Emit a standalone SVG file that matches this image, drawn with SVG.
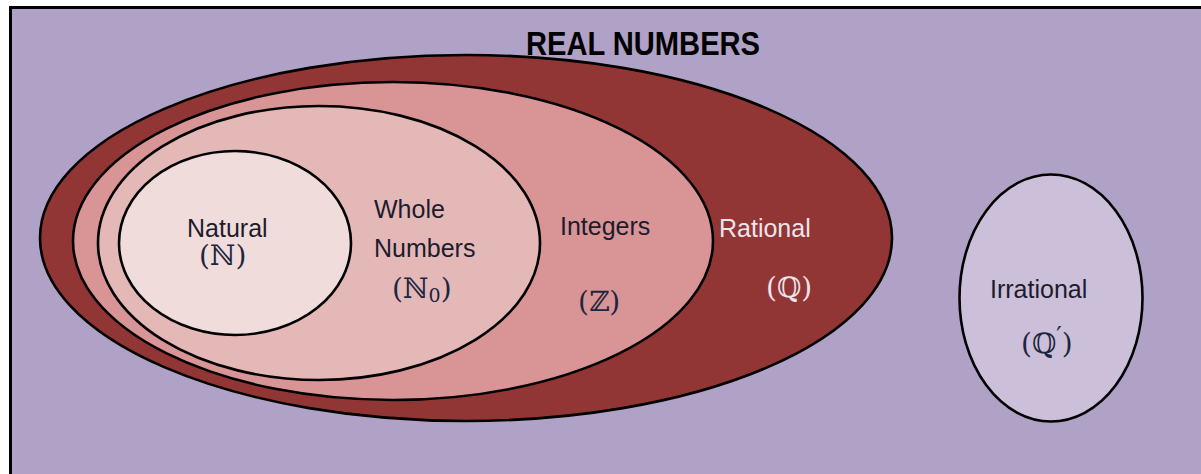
<svg xmlns="http://www.w3.org/2000/svg" width="1201" height="474" viewBox="0 0 1201 474">
<style>
.e{stroke:#000;stroke-width:2.6}
.t{font-family:"Liberation Sans",Arial,sans-serif;font-size:25px;fill:#1c1c2c}
.m{font-family:"DejaVu Serif","DejaVu Sans",serif;font-size:28px;fill:#1c2640}
.lt{fill:#ece4ec}
</style>
<rect x="0" y="0" width="1201" height="474" fill="#fff"/>
<rect x="10.5" y="7.5" width="1200" height="480" fill="#b0a1c6" stroke="#000" stroke-width="3"/>
<text x="643" y="55" text-anchor="middle" font-family="Liberation Sans,Arial,sans-serif" font-weight="bold" font-size="34" textLength="234" lengthAdjust="spacingAndGlyphs" fill="#000">REAL NUMBERS</text>
<g id="rational">
<ellipse class="e" cx="466" cy="238" rx="426" ry="183" fill="#923535" stroke-width="3"/>
<text class="t lt" x="719" y="237">Rational</text>
<text class="m lt" x="766" y="297">(ℚ)</text>
</g>
<g id="integers">
<ellipse class="e" cx="393" cy="241" rx="320" ry="159" fill="#d99595"/>
<text class="t" x="560" y="235">Integers</text>
<text class="m" x="578" y="311">(ℤ)</text>
</g>
<g id="whole">
<ellipse class="e" cx="319" cy="243" rx="221" ry="137" fill="#e5b8b8"/>
<text class="t" x="374" y="218">Whole</text>
<text class="t" x="374" y="257">Numbers</text>
<text class="m" x="392" y="298">(ℕ<tspan font-size="19" dy="4">0</tspan><tspan dy="-4">)</tspan></text>
</g>
<g id="natural">
<ellipse class="e" cx="235" cy="243" rx="116" ry="92" fill="#f1dcdc"/>
<text class="t" x="187" y="237">Natural</text>
<text class="m" x="199" y="265">(ℕ)</text>
</g>
<g id="irrational">
<ellipse class="e" cx="1051" cy="298" rx="91.5" ry="123.5" fill="#ccbfd9"/>
<text class="t" x="990" y="298">Irrational</text>
<text class="m" x="1021" y="353">(ℚ<tspan font-size="24" dy="-9">′</tspan><tspan dy="9">)</tspan></text>
</g>
<g id="connectors"/>
</svg>
